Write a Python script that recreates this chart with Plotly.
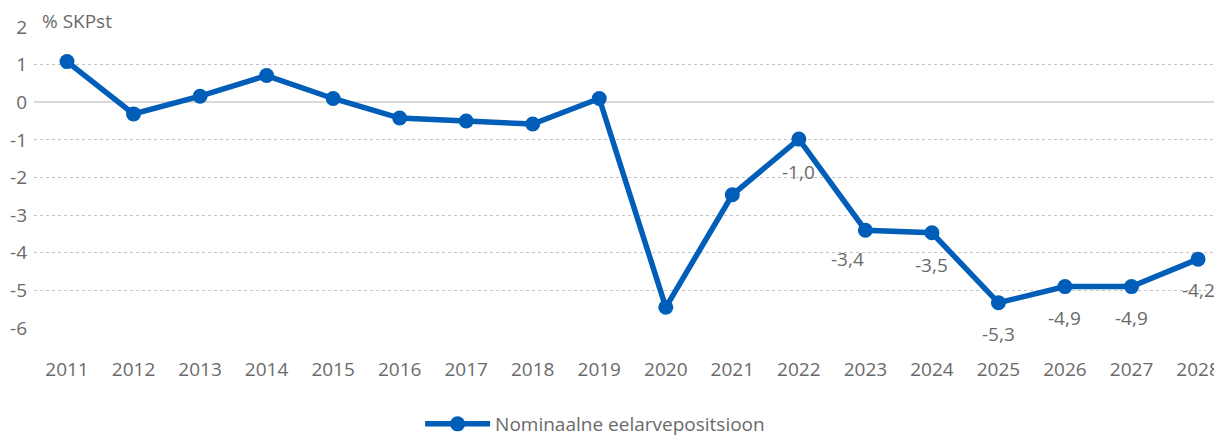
import plotly.graph_objects as go

years = list(range(2011, 2029))
values = [1.08, -0.31, 0.16, 0.71, 0.10, -0.42, -0.50, -0.58, 0.10, -5.45,
          -2.46, -0.98, -3.40, -3.47, -5.33, -4.90, -4.90, -4.17]
label_years = [2022, 2023, 2024, 2025, 2026, 2027, 2028]
label_texts = ["-1,0", "-3,4", "-3,5", "-5,3", "-4,9", "-4,9", "-4,2"]
label_xshift = [0, -18, 0, 0, 0, 0, 0]
label_yshift = [-33, -29, -32, -31, -31, -31, -31]
y_ticks = [2, 1, 0, -1, -2, -3, -4, -5, -6]

BLUE = "#005EB8"
GRAY = "#6a6a6a"
FONT = "Open Sans"
FS = 19

fig = go.Figure()
fig.add_trace(go.Scatter(
    x=years, y=values, mode="lines+markers",
    name="Nominaalne eelarvepositsioon",
    line=dict(color=BLUE, width=5.5),
    marker=dict(color=BLUE, size=15),
))

for yr, txt, xs, ys in zip(label_years, label_texts, label_xshift, label_yshift):
    yv = values[years.index(yr)]
    fig.add_annotation(x=yr, y=yv, text=txt, showarrow=False,
                       yshift=ys, xshift=xs,
                       font=dict(family=FONT, size=FS, color=GRAY))

fig.add_annotation(xref="paper", yref="paper", x=0.005, y=1.0, xanchor="left",
                   yanchor="middle", yshift=6, text="% SKPst", showarrow=False,
                   font=dict(family=FONT, size=FS, color=GRAY))

fig.update_layout(
    width=1214, height=435,
    margin=dict(l=26, r=0, t=19, b=111),
    paper_bgcolor="white", plot_bgcolor="white",
    font=dict(family=FONT, size=FS, color=GRAY),
    showlegend=True,
    legend=dict(orientation="h", x=0.325, xanchor="left", y=-0.321, yanchor="middle",
                itemwidth=65,
                font=dict(family=FONT, size=FS, color=GRAY)),
    xaxis=dict(range=[2010.504, 2028.36], tickvals=years, ticktext=[str(y) for y in years],
               showgrid=False, zeroline=False, showline=False, ticks="",
               automargin=False, ticklabelstandoff=28,
               tickfont=dict(family=FONT, size=FS, color=GRAY)),
    yaxis=dict(range=[-6, 2], tickvals=y_ticks, ticktext=[str(v) for v in y_ticks],
               showgrid=True, gridcolor="#c4c4c4", griddash="dot", gridwidth=1,
               zeroline=True, zerolinecolor="#d9d9d9", zerolinewidth=2,
               showline=False, ticks="", automargin=False, ticklabelstandoff=6,
               tickfont=dict(family=FONT, size=FS, color=GRAY)),
)

fig.write_html("out.html")
